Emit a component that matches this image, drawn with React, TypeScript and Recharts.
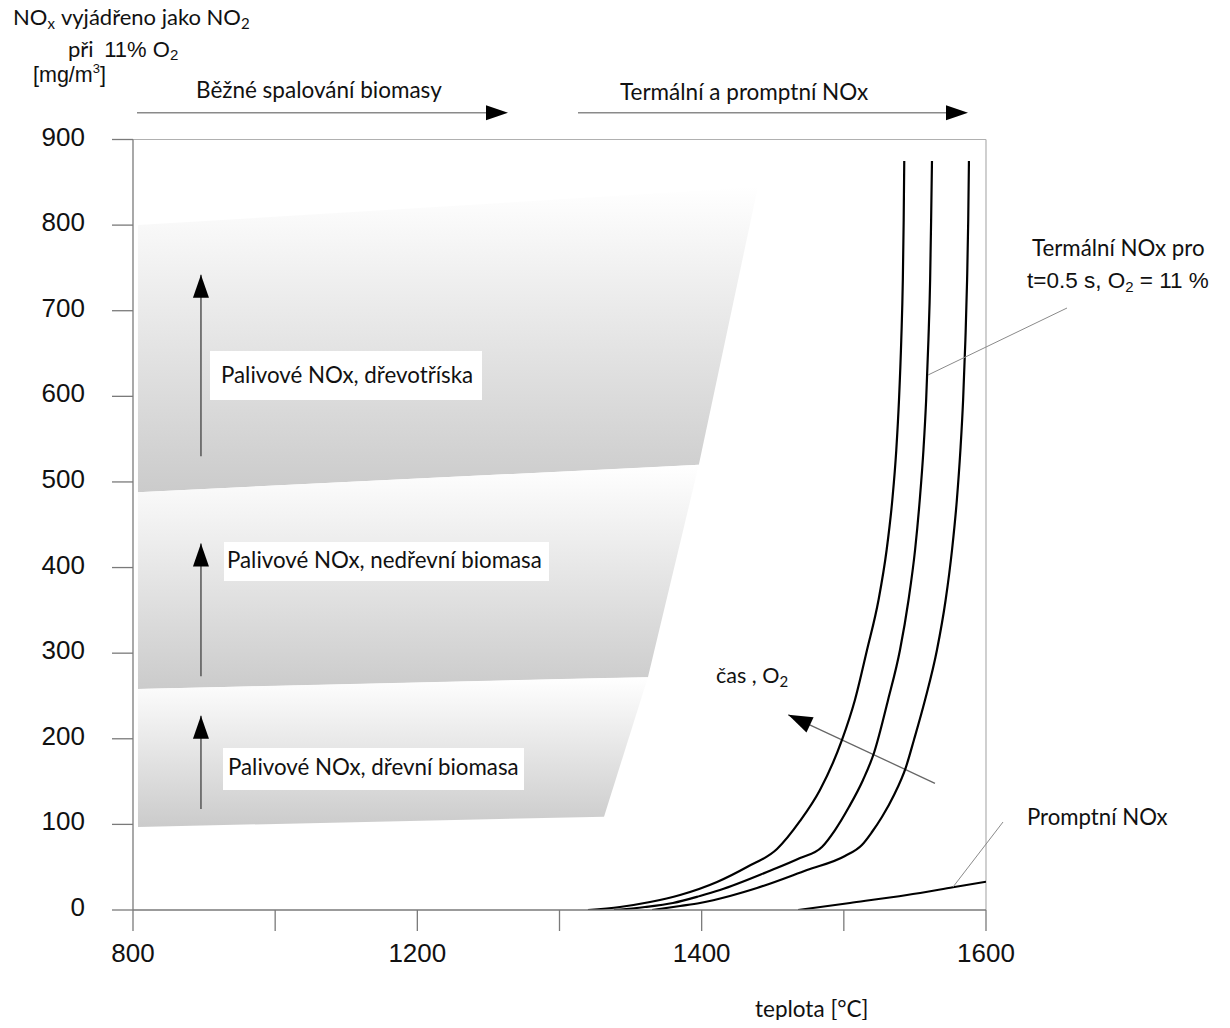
import React from 'react';
import { ComposedChart, Line, Area, XAxis, YAxis, ReferenceLine } from 'recharts';

// ---- axes ----
const xTickValues = [0, 1, 2, 3, 4, 5, 6];
const xTickLabels = ['800', '', '1200', '', '1400', '', '1600'];
const yTickValues = [0, 100, 200, 300, 400, 500, 600, 700, 800, 900];

// ---- fuel NOx bands (x position, [low, high] mg/m3) ----
const bandChipboardX = [0.035, 3.98, 4.396];
const bandChipboardR = [[488, 800], [520, 840], [845, 845]];
const bandNonWoodX = [0.035, 3.622, 3.98];
const bandNonWoodR = [[258, 488], [272, 517], [520, 520]];
const bandWoodX = [0.035, 3.313, 3.622];
const bandWoodR = [[97, 258], [109, 271], [272, 272]];

// ---- fuel NOx arrows (x, tail, tip) ----
const fuelArrowX = 0.478;
const fuelArrowTail = [530, 273, 118];
const fuelArrowTip = [742, 428, 227];

// ---- thermal NOx curves ----
const thermalAX = [3.2, 3.425, 3.637, 3.848, 4.108, 4.319, 4.53, 4.692, 4.832, 4.987, 5.078, 5.163, 5.244, 5.301, 5.341, 5.369, 5.388, 5.404, 5.415, 5.421, 5.425];
const thermalAY = [0, 3.5, 9.3, 17.5, 32.7, 50.2, 71.3, 104, 140.2, 198.6, 245.3, 303.7, 362.1, 420.5, 478.9, 537.3, 595.7, 665.8, 735.9, 806, 874.9];
const thermalBX = [3.383, 3.601, 3.798, 3.988, 4.129, 4.459, 4.692, 4.846, 4.938, 5.036, 5.135, 5.212, 5.311, 5.395, 5.455, 5.501, 5.534, 5.56, 5.579, 5.595, 5.607, 5.614, 5.62];
const thermalBY = [0, 3.5, 8.2, 16.4, 23.4, 44.4, 60.7, 73.6, 93.4, 120.3, 151.9, 183.4, 245.3, 303.7, 362.1, 420.5, 478.9, 537.3, 595.7, 665.8, 735.9, 806, 874.9];
const thermalCX = [3.651, 3.848, 3.988, 4.199, 4.389, 4.741, 5.008, 5.127, 5.198, 5.268, 5.353, 5.437, 5.493, 5.571, 5.655, 5.716, 5.761, 5.795, 5.82, 5.839, 5.855, 5.867, 5.875, 5.88];
const thermalCY = [0, 4.7, 8.2, 16.4, 25.7, 46.7, 63.1, 75.9, 91.1, 108.6, 134.3, 167, 198.6, 245.3, 303.7, 362.1, 420.5, 478.9, 537.3, 595.7, 665.8, 735.9, 806, 874.9];

// ---- prompt NOx ----
const promptX = [4.678, 5.043, 5.444, 5.768, 6.0];
const promptY = [0, 8.2, 17.5, 26.5, 33];

// ---- time / O2 arrow (tail, tip) ----
const timeArrowX = [5.641, 4.609];
const timeArrowY = [148, 228];

const zipXY = (xs: number[], ys: number[]) => xs.map((x, i) => ({ x, y: ys[i] }));
const zipBand = (xs: number[], rs: number[][]) => xs.map((x, i) => ({ x, r: rs[i] }));

const bandChipboard = zipBand(bandChipboardX, bandChipboardR);
const bandNonWood = zipBand(bandNonWoodX, bandNonWoodR);
const bandWood = zipBand(bandWoodX, bandWoodR);
const thermalA = zipXY(thermalAX, thermalAY);
const thermalB = zipXY(thermalBX, thermalBY);
const thermalC = zipXY(thermalCX, thermalCY);
const prompt = zipXY(promptX, promptY);
const fuelArrows = fuelArrowTail.map((t, i) => [
  { x: fuelArrowX, y: t },
  { x: fuelArrowX, y: fuelArrowTip[i] },
]);
const timeArrow = zipXY(timeArrowX, timeArrowY);

const TICK_FONT = '"Liberation Sans", Arial, sans-serif';
const NOTE_FONT = 'Lato, "Open Sans", sans-serif';
const AXIS_COLOR = '#7a7a7a';

const makeHead = (angle: number, len: number, half: number) => (props: any) => {
  const { cx, cy, index } = props;
  if (index !== 1 || cx == null || cy == null) return <g key={`n${index}`} />;
  return (
    <polygon
      key={`h${index}`}
      points={`0,0 ${-len},${-half} ${-len},${half}`}
      transform={`translate(${cx},${cy}) rotate(${angle})`}
      fill="#000"
    />
  );
};

const XTick = (props: any) => {
  const { x, y, payload } = props;
  const label = xTickLabels[xTickValues.indexOf(payload.value)] ?? '';
  return (
    <text x={x} y={y + 19} textAnchor="middle" fontFamily={TICK_FONT} fontSize={26} fill="#111">
      {label}
    </text>
  );
};

const YTick = (props: any) => {
  const { x, y, payload } = props;
  return (
    <text x={x} y={y + 6} textAnchor="end" fontFamily={TICK_FONT} fontSize={26} fill="#111">
      {payload.value}
    </text>
  );
};

const Overlay = () => (
  <svg
    width={1214}
    height={1020}
    style={{ position: 'absolute', left: 0, top: 0, pointerEvents: 'none', overflow: 'visible' }}
  >
    <g transform="translate(-8,-8)" fill="#111">
      {/* y axis title */}
      <text x={13} y={25} fontFamily={NOTE_FONT} fontSize={22}>
        NO<tspan fontSize={15} dy={4}>x</tspan>
        <tspan dy={-4} dx={6}>vyjádřeno jako NO</tspan>
        <tspan fontSize={15} dy={4}>2</tspan>
      </text>
      <text x={68} y={57} fontFamily={NOTE_FONT} fontSize={22}>
        při <tspan fontFamily={TICK_FONT} fontSize={22} dx={5}>11% O</tspan>
        <tspan fontFamily={TICK_FONT} fontSize={15} dy={3}>2</tspan>
      </text>
      <text x={33} y={82} fontFamily={TICK_FONT} fontSize={21.5}>
        [mg/m<tspan fontSize={13} dy={-9}>3</tspan>
        <tspan dy={9}>]</tspan>
      </text>

      {/* top region arrows */}
      <text x={196} y={98} fontFamily={NOTE_FONT} fontSize={22.5}>Běžné spalování biomasy</text>
      <line x1={137} y1={112.7} x2={492} y2={112.7} stroke="#8a8a8a" strokeWidth={1.6} />
      <polygon points="508,112.7 486,105.2 486,120.2" fill="#000" />
      <text x={620} y={100} fontFamily={NOTE_FONT} fontSize={22.5}>Termální a promptní NOx</text>
      <line x1={578} y1={112.7} x2={952} y2={112.7} stroke="#8a8a8a" strokeWidth={1.6} />
      <polygon points="968,112.7 946,105.2 946,120.2" fill="#000" />

      {/* fuel NOx labels */}
      <rect x={210} y={351} width={272} height={49} fill="#fff" />
      <text x={221} y={383} fontFamily={NOTE_FONT} fontSize={22.3}>Palivové NOx, dřevotříska</text>
      <rect x={224} y={542} width={325} height={39} fill="#fff" />
      <text x={227} y={568} fontFamily={NOTE_FONT} fontSize={22.3}>Palivové NOx, nedřevní biomasa</text>
      <rect x={223} y={748} width={301} height={42} fill="#fff" />
      <text x={228} y={775} fontFamily={NOTE_FONT} fontSize={22.3}>Palivové NOx, dřevní biomasa</text>

      {/* thermal / prompt notes */}
      <line x1={928} y1={375} x2={1067} y2={308} stroke="#8a8a8a" strokeWidth={1} />
      <text x={1032} y={256} fontFamily={NOTE_FONT} fontSize={22.3}>Termální NOx pro</text>
      <text x={1027} y={288} fontFamily={TICK_FONT} fontSize={22.5}>
        t=0.5 s, O<tspan fontSize={15} dy={4}>2</tspan>
        <tspan dy={-4}> = 11 %</tspan>
      </text>
      <line x1={953} y1={887} x2={1003} y2={822} stroke="#8a8a8a" strokeWidth={1} />
      <text x={1027} y={825} fontFamily={NOTE_FONT} fontSize={22.2}>Promptní NOx</text>
      <text x={716} y={683} fontFamily={NOTE_FONT} fontSize={21.5}>
        čas , O<tspan fontSize={15} dy={4}>2</tspan>
      </text>

      {/* x axis title */}
      <text x={755} y={1017} fontFamily={NOTE_FONT} fontSize={22.5}>teplota [°C]</text>
    </g>
  </svg>
);

export default function App() {
  return (
    <div style={{ position: 'relative', width: 1214, height: 1012 }}>
      <ComposedChart
        width={1214}
        height={1012}
        margin={{ top: 131.5, right: 236, bottom: 50, left: 25 }}
      >
        <defs>
          <linearGradient id="bandGrad" x1="0" y1="0" x2="0" y2="1">
            <stop offset="0%" stopColor="#ffffff" />
            <stop offset="100%" stopColor="#cbcbcb" />
          </linearGradient>
        </defs>
        <XAxis
          type="number"
          dataKey="x"
          domain={[0, 6]}
          ticks={xTickValues}
          interval={0}
          allowDataOverflow
          height={60}
          tickSize={21}
          tickMargin={12}
          tick={<XTick />}
          axisLine={{ stroke: AXIS_COLOR, strokeWidth: 1.3 }}
          tickLine={{ stroke: AXIS_COLOR, strokeWidth: 1.3 }}
        />
        <YAxis
          type="number"
          domain={[0, 900]}
          ticks={yTickValues}
          interval={0}
          allowDataOverflow
          width={100}
          tickSize={21}
          tickMargin={27}
          tick={<YTick />}
          axisLine={{ stroke: AXIS_COLOR, strokeWidth: 1.3 }}
          tickLine={{ stroke: AXIS_COLOR, strokeWidth: 1.3 }}
        />
        <ReferenceLine y={900} stroke="#b0b0b0" strokeWidth={1.2} />
        <ReferenceLine x={6} stroke="#b0b0b0" strokeWidth={1.2} />

        <Area data={bandChipboard} dataKey="r" type="linear" stroke="none" fill="url(#bandGrad)" fillOpacity={1} dot={false} activeDot={false} isAnimationActive={false} />
        <Area data={bandNonWood} dataKey="r" type="linear" stroke="none" fill="url(#bandGrad)" fillOpacity={1} dot={false} activeDot={false} isAnimationActive={false} />
        <Area data={bandWood} dataKey="r" type="linear" stroke="none" fill="url(#bandGrad)" fillOpacity={1} dot={false} activeDot={false} isAnimationActive={false} />

        {fuelArrows.map((d, i) => (
          <Line
            key={`fa${i}`}
            data={d}
            dataKey="y"
            type="linear"
            stroke="#555"
            strokeWidth={1.5}
            dot={makeHead(-90, 23, 8)}
            activeDot={false}
            isAnimationActive={false}
          />
        ))}

        <Line data={timeArrow} dataKey="y" type="linear" stroke="#666" strokeWidth={1.3} dot={makeHead(-155.2, 24, 8.5)} activeDot={false} isAnimationActive={false} />

        <Line data={thermalA} dataKey="y" type="monotone" stroke="#000" strokeWidth={2.2} dot={false} activeDot={false} isAnimationActive={false} />
        <Line data={thermalB} dataKey="y" type="monotone" stroke="#000" strokeWidth={2.2} dot={false} activeDot={false} isAnimationActive={false} />
        <Line data={thermalC} dataKey="y" type="monotone" stroke="#000" strokeWidth={2.2} dot={false} activeDot={false} isAnimationActive={false} />
        <Line data={prompt} dataKey="y" type="monotone" stroke="#000" strokeWidth={2} dot={false} activeDot={false} isAnimationActive={false} />
      </ComposedChart>
      <Overlay />
    </div>
  );
}
